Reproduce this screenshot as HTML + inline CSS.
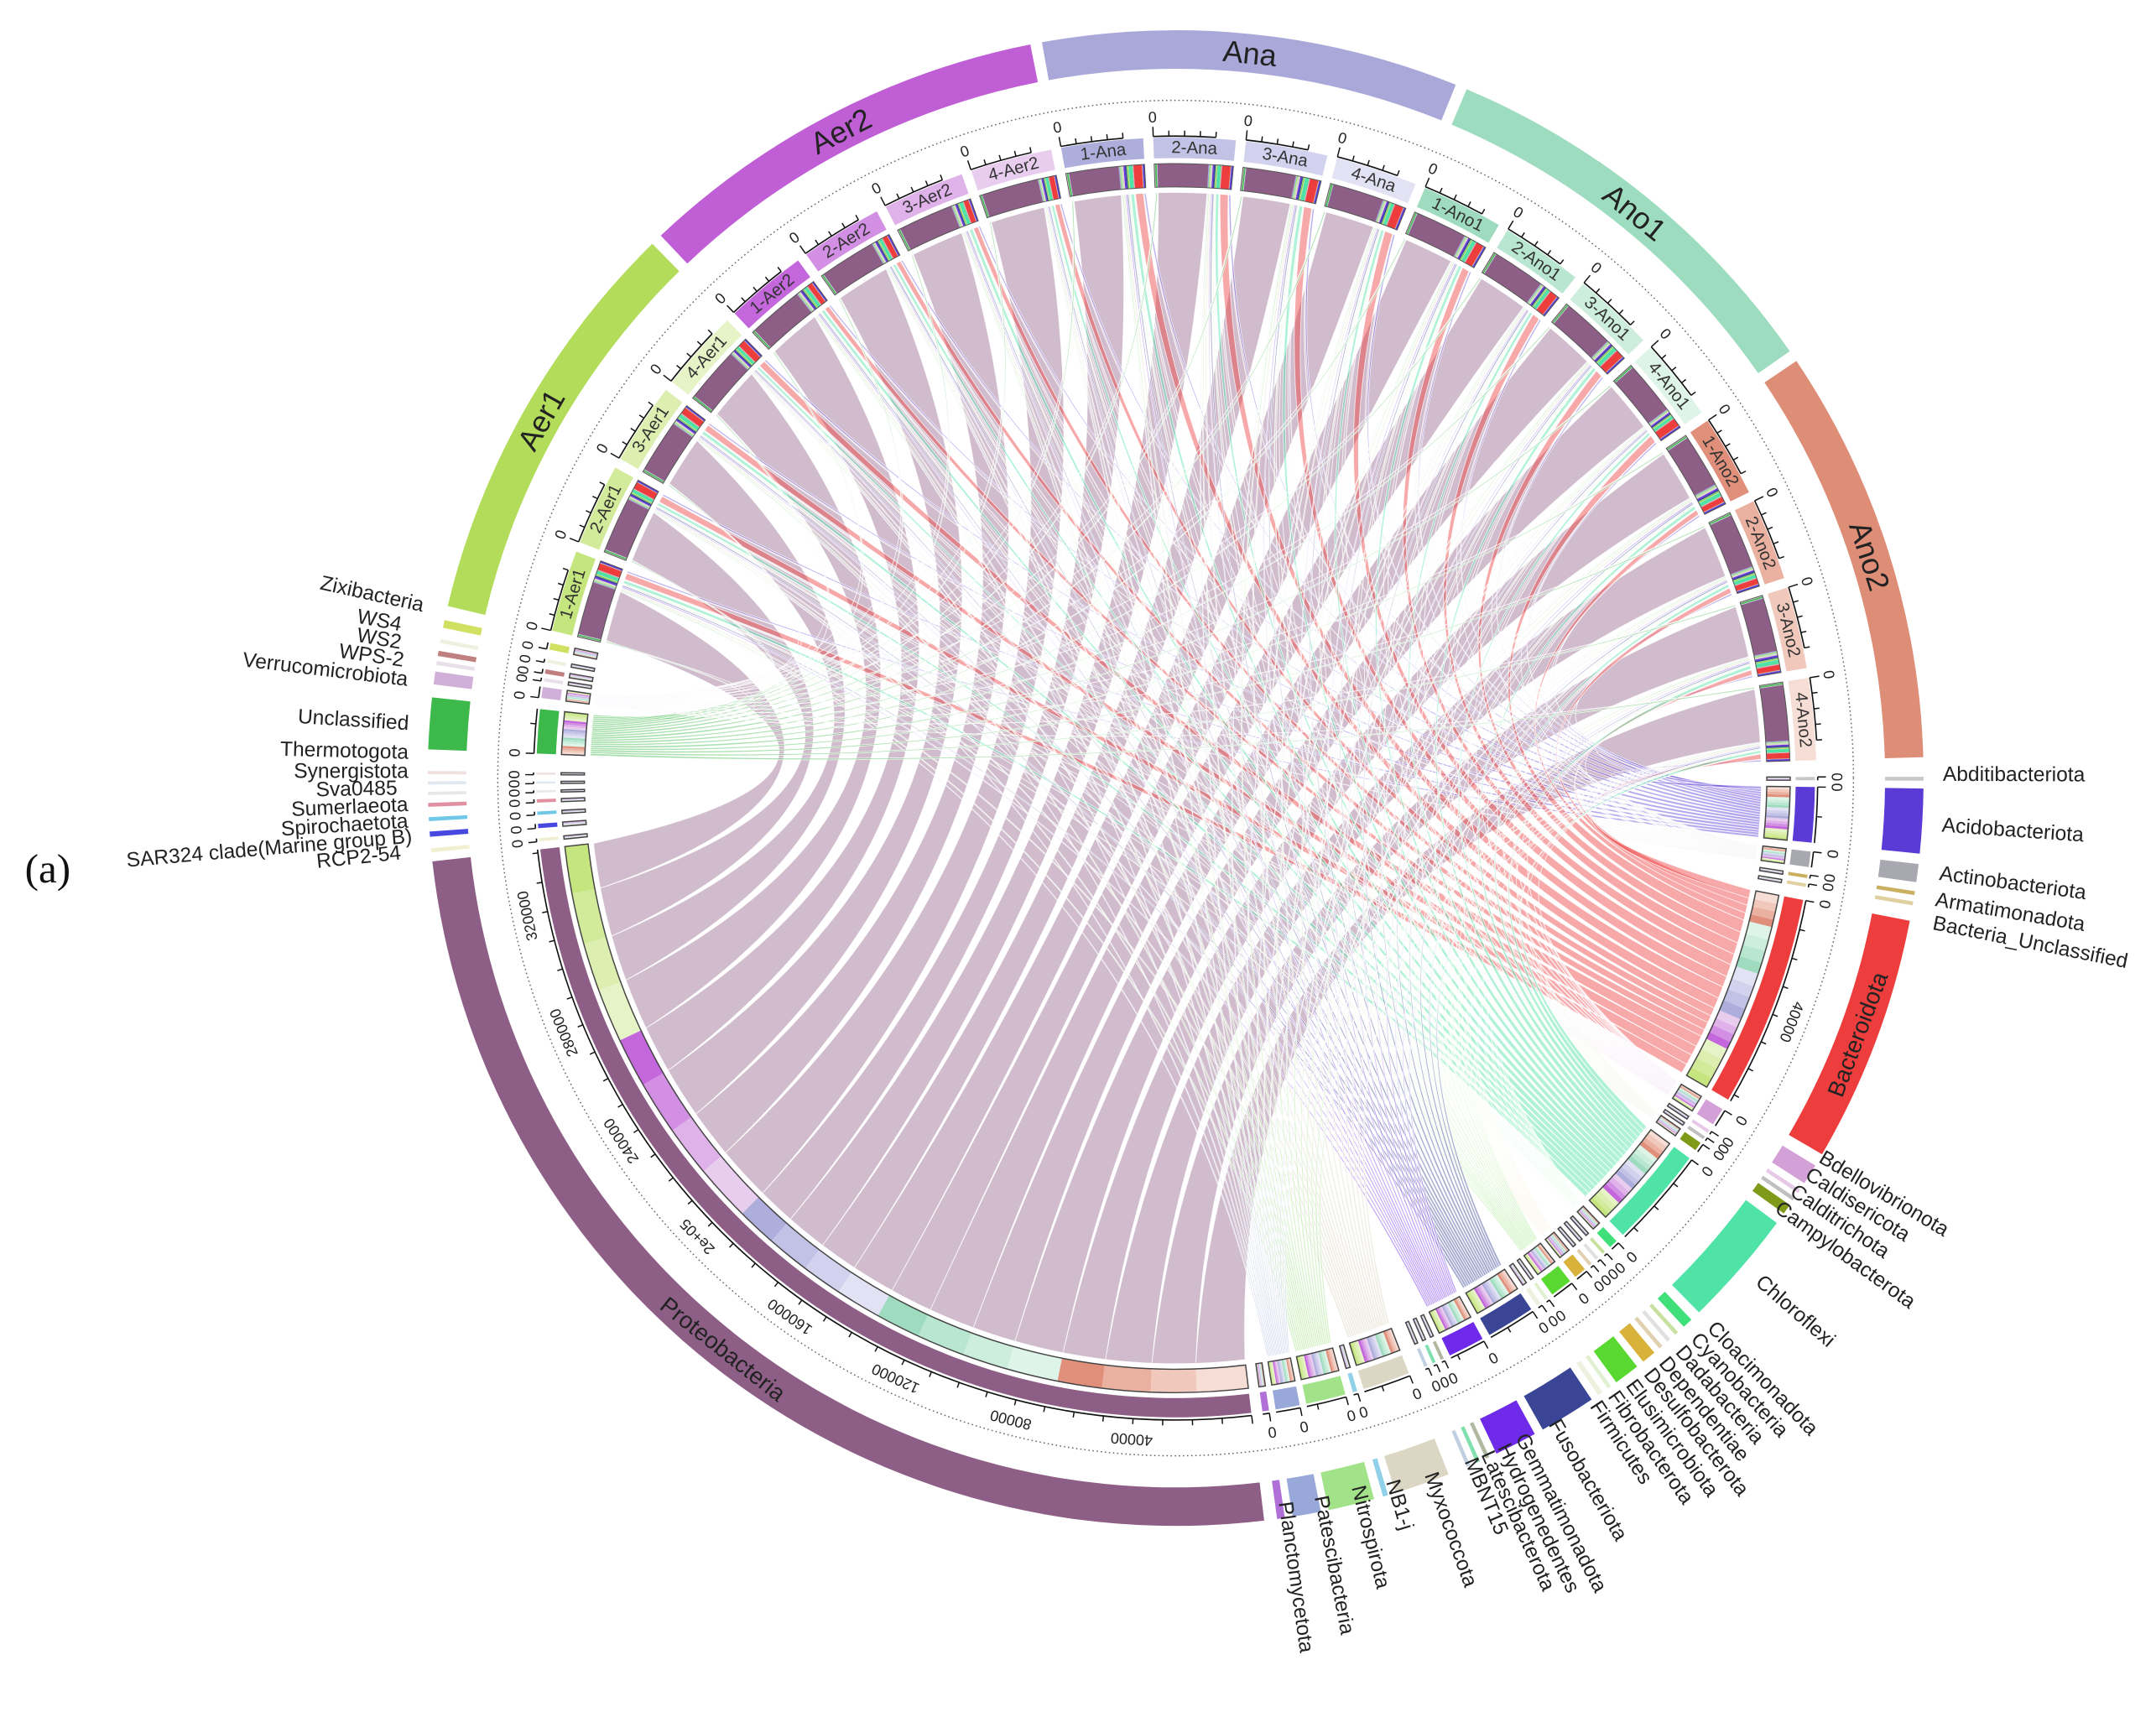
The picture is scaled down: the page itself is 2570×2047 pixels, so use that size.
<!DOCTYPE html>
<html><head><meta charset="utf-8"><style>
html,body{margin:0;padding:0;background:#fff;}
svg{display:block;font-family:"Liberation Sans",Arial,sans-serif;}
.rl,.ll{font-size:15px;fill:#222;}
.sl{font-size:12.5px;fill:#333;text-anchor:middle;dominant-baseline:central;}
.gl{font-size:22px;fill:#222;text-anchor:middle;dominant-baseline:central;}
#z text,#ax text{font-size:11px;fill:#222;text-anchor:middle;dominant-baseline:central;}
</style></head><body>
<svg id="sv" width="2570" height="2047" viewBox="0 0 1568 1249" xmlns="http://www.w3.org/2000/svg">
<g id="shapes"></g>
<text x="18" y="642" font-family="Liberation Serif,serif" font-size="30" fill="#111">(a)</text>
<g id="samp">
<text class="sl" id="sl0">1-Aer1</text><text class="sl" id="sl1">2-Aer1</text><text class="sl" id="sl2">3-Aer1</text><text class="sl" id="sl3">4-Aer1</text>
<text class="sl" id="sl4">1-Aer2</text><text class="sl" id="sl5">2-Aer2</text><text class="sl" id="sl6">3-Aer2</text><text class="sl" id="sl7">4-Aer2</text>
<text class="sl" id="sl8">1-Ana</text><text class="sl" id="sl9">2-Ana</text><text class="sl" id="sl10">3-Ana</text><text class="sl" id="sl11">4-Ana</text>
<text class="sl" id="sl12">1-Ano1</text><text class="sl" id="sl13">2-Ano1</text><text class="sl" id="sl14">3-Ano1</text><text class="sl" id="sl15">4-Ano1</text>
<text class="sl" id="sl16">1-Ano2</text><text class="sl" id="sl17">2-Ano2</text><text class="sl" id="sl18">3-Ano2</text><text class="sl" id="sl19">4-Ano2</text>
</g>
<g>
<text class="gl" id="gl0">Aer1</text><text class="gl" id="gl1">Aer2</text><text class="gl" id="gl2">Ana</text><text class="gl" id="gl3">Ano1</text><text class="gl" id="gl4">Ano2</text>
<text class="gl" id="protl" style="font-size:17px">Proteobacteria</text>
<text class="gl" id="bactl" style="font-size:17px">Bacteroidota</text>
</g>
<g id="ax">
<text id="pl0">40000</text><text id="pl1">80000</text><text id="pl2">120000</text><text id="pl3">160000</text><text id="pl4">2e+05</text><text id="pl5">240000</text><text id="pl6">280000</text><text id="pl7">320000</text>
<text id="bl0">40000</text>
</g>
<g id="z">
<text>0</text><text>0</text><text>0</text><text>0</text><text>0</text><text>0</text><text>0</text><text>0</text><text>0</text><text>0</text>
<text>0</text><text>0</text><text>0</text><text>0</text><text>0</text><text>0</text><text>0</text><text>0</text><text>0</text><text>0</text>
<text>0</text><text>0</text><text>0</text><text>0</text><text>0</text><text>0</text><text>0</text><text>0</text><text>0</text><text>0</text>
<text>0</text><text>0</text><text>0</text><text>0</text><text>0</text><text>0</text><text>0</text><text>0</text><text>0</text><text>0</text>
<text>0</text><text>0</text><text>0</text><text>0</text><text>0</text><text>0</text><text>0</text><text>0</text><text>0</text><text>0</text>
<text>0</text><text>0</text><text>0</text><text>0</text><text>0</text><text>0</text><text>0</text><text>0</text><text>0</text><text>0</text>
<text>0</text><text>0</text>
</g>
<g id="labs">
<text class="rl" x="1413" y="568">Abditibacteriota</text>
<text class="rl" x="1412" y="605">Acidobacteriota</text>
<text class="rl" x="1410" y="640">Actinobacteriota</text>
<text class="rl" x="1407" y="659">Armatimonadota</text>
<text class="rl" x="1405" y="676">Bacteria_Unclassified</text>
<text class="rl" x="1322" y="845">Bdellovibrionota</text>
<text class="rl" x="1312" y="857">Caldisericota</text>
<text class="rl" x="1301" y="869">Calditrichota</text>
<text class="rl" x="1290" y="881">Campylobacterota</text>
<text class="rl" x="1276" y="934">Chloroflexi</text>
<text class="rl" x="1241" y="967">Cloacimonadota</text>
<text class="rl" x="1229" y="975">Cyanobacteria</text>
<text class="rl" x="1218" y="984">Dadabacteria</text>
<text class="rl" x="1206" y="992">Dependentiae</text>
<text class="rl" x="1195" y="1000">Desulfobacterota</text>
<text class="rl" x="1182" y="1008">Elusimicrobiota</text>
<text class="rl" x="1169" y="1016">Fibrobacterota</text>
<text class="rl" x="1156" y="1023">Firmicutes</text>
<text class="rl" x="1126" y="1036">Fusobacteriota</text>
<text class="rl" x="1102" y="1046">Gemmatimonadota</text>
<text class="rl" x="1089" y="1053">Hydrogenedentes</text>
<text class="rl" x="1077" y="1058">Latescibacterota</text>
<text class="rl" x="1065" y="1063">MBNT15</text>
<text class="rl" x="1036" y="1073">Myxococcota</text>
<text class="rl" x="1008" y="1078">NB1-j</text>
<text class="rl" x="983" y="1082">Nitrospirota</text>
<text class="rl" x="956" y="1089">Patescibacteria</text>
<text class="rl" x="930" y="1093">Planctomycetota</text>
<text class="ll" x="307" y="445">Zixibacteria</text>
<text class="ll" x="291" y="459">WS4</text>
<text class="ll" x="291" y="472">WS2</text>
<text class="ll" x="293" y="485">WPS-2</text>
<text class="ll" x="296" y="499">Verrucomicrobiota</text>
<text class="ll" x="297" y="531">Unclassified</text>
<text class="ll" x="297" y="552">Thermotogota</text>
<text class="ll" x="297" y="566">Synergistota</text>
<text class="ll" x="289" y="578">Sva0485</text>
<text class="ll" x="297" y="590">Sumerlaeota</text>
<text class="ll" x="297" y="602">Spirochaetota</text>
<text class="ll" x="300" y="613">SAR324 clade(Marine group B)</text>
<text class="ll" x="292" y="625">RCP2-54</text>
</g>
</svg>
<script>
(function(){
var cx=855,cy=566,R=426;
function rad(d){return d*Math.PI/180;}
function P(r,t){return [cx+r*Math.sin(rad(t)),cy-r*Math.cos(rad(t))];}
function f(p){return p[0].toFixed(2)+','+p[1].toFixed(2);}
function band(r1,r2,t1,t2){var L=(t2-t1)>180?1:0;return 'M'+f(P(r2,t1))+'A'+r2+','+r2+' 0 '+L+' 1 '+f(P(r2,t2))+'L'+f(P(r1,t2))+'A'+r1+','+r1+' 0 '+L+' 0 '+f(P(r1,t1))+'Z';}
function arc(r,t1,t2){var L=(t2-t1)>180?1:0;return 'M'+f(P(r,t1))+'A'+r+','+r+' 0 '+L+' 1 '+f(P(r,t2));}
function line(r1,r2,t){return 'M'+f(P(r1,t))+'L'+f(P(r2,t));}
var gc=['#b3dc5b','#bf5ed5','#a9a8d9','#9ddcbf','#de8e77'];
var tc=[['#c5e57f','#d2eb9a','#dceeb0','#e6f3c6'],['#c466dc','#d28fe3','#dfb2ea','#e9cdef'],['#aeaedc','#c2c2e6','#d2d2ee','#e2e2f4'],['#9fdcbf','#b8e6d0','#cdeedd','#dff4e9'],['#e0907a','#eab0a0','#f0c8bc','#f6ddd5']];
var PH=[
['Abditibacteriota',89.9,90.2,'#c8c8c8'],['Acidobacteriota',90.8,95.8,'#5b3bd6'],['Actinobacteriota',96.6,98.0,'#a8a8b0'],
['Armatimonadota',98.7,99.0,'#c8b060'],['Bacteria_Unclassified',99.5,99.8,'#e0d0a0'],['Bacteroidota',101,120.2,'#ee3d3d',[4,3,4.5,4.5,3]],
['Bdellovibrionota',121.2,122.8,'#d4a0d8'],['Caldisericota',123.4,123.7,'#e8c8e8'],['Calditrichota',124.1,124.4,'#c0c0c0'],
['Campylobacterota',124.8,125.6,'#7e9a18'],['Chloroflexi',126.5,135.6,'#4fe3a8'],['Cloacimonadota',136.4,137.2,'#3fe07a'],
['Cyanobacteria',137.8,138.1,'#c8e0a0'],['Dadabacteria',138.6,138.9,'#e0e0e0'],['Dependentiae',139.4,139.7,'#e0d0b0'],
['Desulfobacterota',140.2,141.3,'#d8b23a'],['Elusimicrobiota',141.9,143.9,'#58d830'],['Fibrobacterota',144.4,144.7,'#e0f0d0'],
['Firmicutes',145.2,145.6,'#eef0e0'],['Fusobacteriota',146.2,150.6,'#3a4595'],['Gemmatimonadota',151.3,154.6,'#6e2ae8'],
['Hydrogenedentes',155.2,155.5,'#b0b8a0'],['Latescibacterota',156,156.3,'#80e0b0'],['MBNT15',156.8,157.1,'#c0d0e0'],
['Myxococcota',158.6,162.9,'#dcd6c4'],['NB1-j',163.5,163.9,'#90d0e8'],['Nitrospirota',164.6,168.2,'#a2e38a'],
['Patescibacteria',168.8,171,'#98a8d8'],['Planctomycetota',171.6,172.2,'#b070d8'],['Proteobacteria',173.2,263.6,'#8e5f86',[19,20,16,18,18]],
['RCP2-54',264.3,264.6,'#f0f0d0'],['SAR324',265.5,265.9,'#4848e0'],['Spirochaetota',266.7,267.0,'#70c8e8'],
['Sumerlaeota',267.8,268.1,'#e090a0'],['Sva0485',268.7,268.9,'#e8e8e8'],['Synergistota',269.5,269.7,'#e0e8f0'],
['Thermotogota',270.3,270.5,'#f0e0e0'],['Unclassified',272.2,276.2,'#3db84a'],['Verrucomicrobiota',277.2,278.2,'#d0b0d8'],
['WPS-2',278.7,279.0,'#e8e0e8'],['WS2',279.4,279.8,'#c08080'],['WS4',280.4,280.7,'#f0f0e0'],['Zixibacteria',281.6,282.2,'#d0e060']];
var mj=[1.08,0.94,1.02,0.96];
var NS=20,sc=[];for(var k=0;k<NS;k++)sc.push(-73+8.3*k);
var q=[];for(k=0;k<NS;k++)q.push([]);
PH.forEach(function(ph,p){var T=ph[2]-ph[1];var w=[],s=0;for(var k=0;k<NS;k++){var g=Math.floor(k/4),j=k%4;var ww=(ph[4]?ph[4][g]:1)*mj[(j+p)%4];w.push(ww);s+=ww;}for(k=0;k<NS;k++)q[k][p]=T*w[k]/s;});
var php=[];PH.forEach(function(ph,p){var cur=ph[1];php[p]=[];for(var k=NS-1;k>=0;k--){php[p][k]=[cur,cur+q[k][p]];cur+=q[k][p];}});
var boost=function(p){return PH[p][0]==='Proteobacteria'?1.7:1;};
var smp=[];for(k=0;k<NS;k++){var tot=0;for(var p=0;p<PH.length;p++)tot+=q[k][p]*boost(p);var scl=7.4/tot;var cur=sc[k]-3.7;smp[k]=[];for(p=PH.length-1;p>=0;p--){var d=q[k][p]*boost(p)*scl;smp[k][p]=[cur,cur+d];cur+=d;}}
var s='';
for(var g=0;g<5;g++){var t1=sc[4*g]-3.7,t2=sc[4*g+3]+3.7;s+='<path d="'+band(516,544,t1,t2)+'" fill="'+gc[g]+'"/>';}
PH.forEach(function(ph){var t2=Math.max(ph[2],ph[1]+0.25);s+='<path d="'+band(516,544,ph[1],t2)+'" fill="'+ph[3]+'"/>';});
s+='<circle cx="'+cx+'" cy="'+cy+'" r="493" fill="none" stroke="#666" stroke-width="0.9" stroke-dasharray="1 2"/>';
var order=[];PH.forEach(function(ph,p){if(ph[0]==='Proteobacteria')order.unshift(p);else order.push(p);});
order.forEach(function(p){var ph=PH[p];if(ph[2]-ph[1]<0.7)return;var op=ph[0]==='Proteobacteria'?0.42:0.45;
 for(var k=0;k<NS;k++){var a=smp[k][p],b=php[p][k];var am=(a[0]+a[1])/2,bm=(b[0]+b[1])/2;
  var d=Math.abs((((am-bm)%360)+540)%360-180);var ux=Math.sin(rad(am))+Math.sin(rad(bm)),uy=-Math.cos(rad(am))-Math.cos(rad(bm));var n=Math.hypot(ux,uy)||1;
  var kk=0.5*Math.pow(1-d/180,2)*R;var C=[cx+ux/n*kk,cy+uy/n*kk];
  var dd='M'+f(P(R,a[0]))+'A'+R+','+R+' 0 0 1 '+f(P(R,a[1]))+'Q'+f(C)+' '+f(P(R,b[0]))+'A'+R+','+R+' 0 0 1 '+f(P(R,b[1]))+'Q'+f(C)+' '+f(P(R,a[0]))+'Z';
  s+='<path d="'+dd+'" fill="'+ph[3]+'" fill-opacity="'+op+'" stroke="#fff" stroke-width="0.5" stroke-opacity="0.8"/>';}});
for(k=0;k<NS;k++){var g=Math.floor(k/4),j=k%4,t1=sc[k]-3.7,t2=sc[k]+3.7;
 for(p=0;p<PH.length;p++){var a=smp[k][p];s+='<path d="'+band(430,447,a[0],a[1])+'" fill="'+PH[p][3]+'"/>';}
 s+='<path d="'+band(430,447,t1,t2)+'" fill="none" stroke="#555" stroke-width="0.6"/>';
 s+='<path d="'+band(451,466,t1,t2)+'" fill="'+tc[g][j]+'"/>';
 var te=t1+5.6;s+='<path d="'+arc(467,t1,te)+'" fill="none" stroke="#111" stroke-width="1"/>';
 for(var i=0;i<=4;i++){var tt=t1+i*1.4;s+='<path d="'+line(467,i===0?474:471,tt)+'" stroke="#111" stroke-width="0.9"/>';}
}
PH.forEach(function(ph,p){var T=ph[2]-ph[1];
 for(var k=0;k<NS;k++){var b=php[p][k];var g=Math.floor(k/4),j=k%4;s+='<path d="'+band(430,447,b[0],b[1])+'" fill="'+tc[g][j]+'"/>';}
 s+='<path d="'+band(430,447,ph[1],ph[2])+'" fill="none" stroke="#444" stroke-width="0.9"/>';
 s+='<path d="'+band(451,465,ph[1],ph[2])+'" fill="'+ph[3]+'"/>';
 s+='<path d="'+arc(467,ph[1],ph[2])+'" fill="none" stroke="#111" stroke-width="1"/>';
 s+='<path d="'+line(467,473,ph[1])+'" stroke="#111" stroke-width="0.9"/>';
 if(T>1){for(var t=ph[1]+2.65;t<ph[2];t+=2.65){s+='<path d="'+line(467,471,t)+'" stroke="#111" stroke-width="0.9"/>';}}
});
document.getElementById('shapes').innerHTML=s;
function place(el,r,t,rot){var p=P(r,t);el.setAttribute('x',p[0].toFixed(2));el.setAttribute('y',p[1].toFixed(2));el.setAttribute('transform','rotate('+rot.toFixed(2)+' '+p[0].toFixed(2)+' '+p[1].toFixed(2)+')');}
for(k=0;k<NS;k++){place(document.getElementById('sl'+k),458.5,sc[k],sc[k]);}
for(g=0;g<5;g++){var c=(sc[4*g]+sc[4*g+3])/2;place(document.getElementById('gl'+g),530,c,c);}
var pr=PH.find(function(x){return x[0]==='Proteobacteria';});var pm=(pr[1]+pr[2])/2;place(document.getElementById('protl'),530,pm,pm-180);
var ba=PH.find(function(x){return x[0]==='Bacteroidota';});var bm=(ba[1]+ba[2])/2;place(document.getElementById('bactl'),530,bm,bm-180);
for(i=0;i<8;i++){var t=pr[1]+10.6*(i+1);place(document.getElementById('pl'+i),482,t,t);}
place(document.getElementById('bl0'),482,ba[1]+10.6,ba[1]+10.6);
var zs=document.getElementById('z').children,zi=0;
for(k=0;k<NS;k++){var t=sc[k]-3.7;place(zs[zi++],481,t,t);}
PH.forEach(function(ph){if(ph[0]==='Proteobacteria')return;if(zi<zs.length){place(zs[zi++],481,ph[1],ph[1]);}});
Array.prototype.forEach.call(document.querySelectorAll('.rl'),function(el){var x=+el.getAttribute('x'),y=+el.getAttribute('y');var a=Math.atan2(y-cy,x-cx)*180/Math.PI;el.setAttribute('transform','rotate('+a.toFixed(2)+' '+x+' '+y+')');});
Array.prototype.forEach.call(document.querySelectorAll('.ll'),function(el){var x=+el.getAttribute('x'),y=+el.getAttribute('y');var a=Math.atan2(y-cy,x-cx)*180/Math.PI-180;el.setAttribute('text-anchor','end');el.setAttribute('transform','rotate('+a.toFixed(2)+' '+x+' '+y+')');});
})();
</script>
</body></html>
